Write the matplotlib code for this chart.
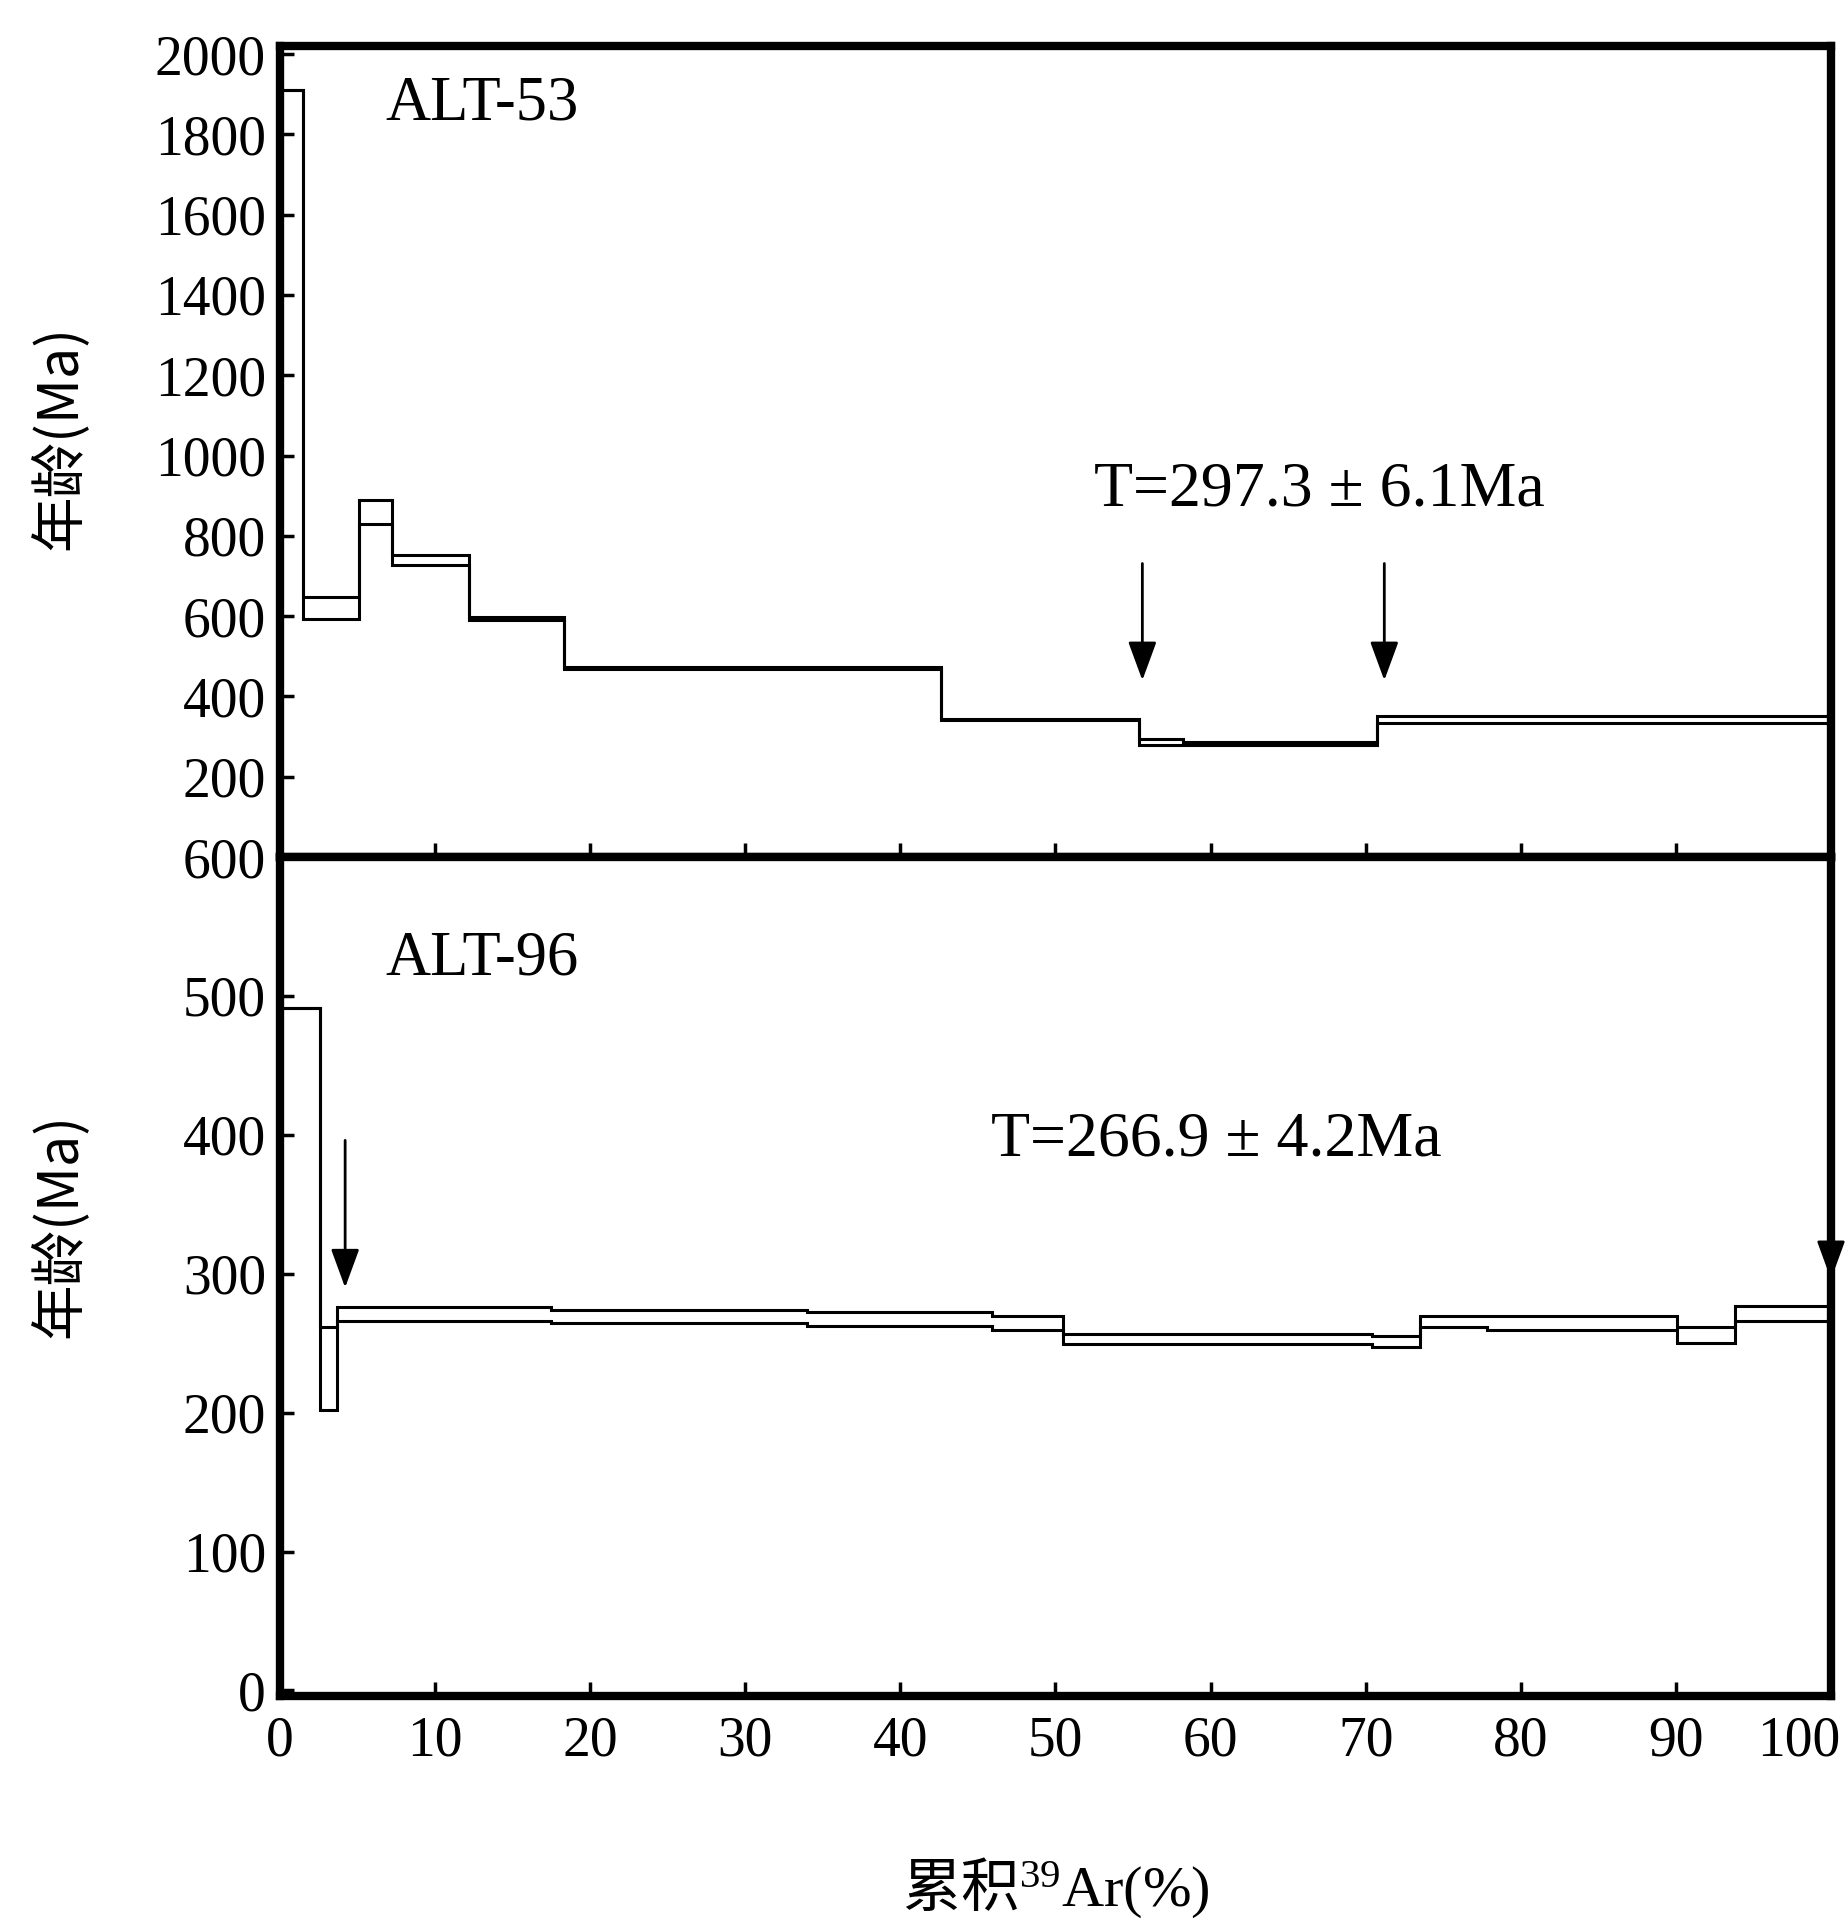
import numpy as np
import matplotlib
matplotlib.use("Agg")
import matplotlib.pyplot as plt
from matplotlib.transforms import ScaledTranslation

plt.rcParams['font.family'] = ['Liberation Serif', 'Noto Sans CJK SC']
plt.rcParams['mathtext.fontset'] = 'custom'
plt.rcParams['mathtext.rm'] = 'Liberation Serif'
plt.rcParams['mathtext.it'] = 'Liberation Serif:italic'
plt.rcParams['mathtext.bf'] = 'Liberation Serif:bold'
plt.rcParams['mathtext.default'] = 'rm'

# ---------------- data ----------------
# ALT-53: cumulative 39Ar (%) step edges, upper / lower age bounds (Ma)
alt53_edges = [0, 1.5, 5.1, 7.2, 12.2, 18.3, 42.6, 55.4, 58.2, 70.7, 100]
alt53_upper = [1910, 648, 890, 752, 599, 473, 344, 294, 286, 352]
alt53_lower = [1910, 593, 829, 728, 590, 468, 340, 280, 280, 334]
alt53_label = "ALT-53"
alt53_plateau = "T=297.3 ± 6.1Ma"
alt53_arrows_x = [55.6, 71.2]

# ALT-96
alt96_edges = [0, 2.6, 3.7, 17.5, 34.0, 45.9, 50.5, 70.4, 73.5, 77.8, 83.1, 90.1, 93.8, 100]
alt96_upper = [491, 262, 276, 274, 272.3, 269.3, 256.6, 254.9, 269.3, 269.3, 269.3, 262, 277]
alt96_lower = [491, 202, 265.7, 264.3, 262.2, 259.7, 249.5, 246.9, 261.4, 259.2, 259.2, 250, 266]
alt96_label = "ALT-96"
alt96_plateau = "T=266.9 ± 4.2Ma"
alt96_arrows_x = [4.2, 100]

top_yticks = [200, 400, 600, 800, 1000, 1200, 1400, 1600, 1800, 2000]
bot_yticks = [0, 100, 200, 300, 400, 500, 600]
xticks = [0, 10, 20, 30, 40, 50, 60, 70, 80, 90, 100]

# ---------------- figure ----------------
W, H = 1849, 1923
fig = plt.figure(figsize=(W / 100, H / 100), dpi=100)

L, R = 280 / W, 1831 / W
y_top, y_mid, y_bot = 1 - 46 / H, 1 - 857 / H, 1 - 1696 / H
ax1 = fig.add_axes([L, y_mid, R - L, y_top - y_mid])
ax2 = fig.add_axes([L, y_bot, R - L, y_mid - y_bot])

spine_lw = 6.0
line_lw = 2.2
tick_fs = 40

for ax in (ax1, ax2):
    for s in ax.spines.values():
        s.set_linewidth(spine_lw)
        s.set_zorder(5)
    ax.set_xlim(0, 100)
    ax.set_xticks(xticks)
    ax.tick_params(direction='in', length=10, width=2.5, labelsize=tick_fs,
                   right=False, top=False)
    ax.tick_params(axis='y', pad=10)
    ax.tick_params(axis='x', pad=14)

# Top panel
ax1.set_ylim(0, 2020)
ax1.set_yticks(top_yticks)
ax1.tick_params(axis='x', labelbottom=False)
ax1.stairs(alt53_upper, alt53_edges, baseline=None, color='k', lw=line_lw)
ax1.stairs(alt53_lower, alt53_edges, baseline=None, color='k', lw=line_lw)
ax1.text(6.8, 1875, alt53_label, fontsize=45, va='center', ha='left')
ax1.text(67.0, 913, alt53_plateau, fontsize=46, va='center', ha='center')
for xa in alt53_arrows_x:
    ax1.annotate('', xy=(xa, 440), xytext=(xa, 731),
                 arrowprops=dict(arrowstyle='-|>,head_length=0.6,head_width=0.22',
                                 mutation_scale=40, lw=2, color='k',
                                 shrinkA=0, shrinkB=0))

# Bottom panel
ax2.set_ylim(-4, 600)
ax2.set_yticks(bot_yticks)
ax2.stairs(alt96_upper, alt96_edges, baseline=None, color='k', lw=line_lw)
ax2.stairs(alt96_lower, alt96_edges, baseline=None, color='k', lw=line_lw)
ax2.text(6.8, 526, alt96_label, fontsize=45, va='center', ha='left')
ax2.text(60.4, 396, alt96_plateau, fontsize=46, va='center', ha='center')
ax2.annotate('', xy=(alt96_arrows_x[0], 290), xytext=(alt96_arrows_x[0], 396),
             arrowprops=dict(arrowstyle='-|>,head_length=0.6,head_width=0.22',
                             mutation_scale=40, lw=2, color='k',
                             shrinkA=0, shrinkB=0))
ax2.annotate('', xy=(alt96_arrows_x[1], 296), xytext=(alt96_arrows_x[1], 420),
             arrowprops=dict(arrowstyle='-|>,head_length=0.6,head_width=0.22',
                             mutation_scale=40, lw=2, color='k',
                             shrinkA=0, shrinkB=0),
             annotation_clip=False)

# shift the last x tick label ("100") left so it stays inside the figure
last = ax2.get_xticklabels()[-1]
last.set_transform(last.get_transform() + ScaledTranslation(-0.32, 0, fig.dpi_scale_trans))

# Labels
ylab_kw = dict(fontsize=40, family=['Noto Sans CJK SC', 'DejaVu Sans'])
ax1.set_ylabel('年龄(Ma)', **ylab_kw)
ax2.set_ylabel('年龄(Ma)', **ylab_kw)
ax1.yaxis.label.set_va('center')
ax2.yaxis.label.set_va('center')
ax1.yaxis.set_label_coords((59 - 280) / 1551, 0.517)
ax2.yaxis.set_label_coords((59 - 280) / 1551, 0.561)

ax2.set_xlabel('累积$^{39}\\mathrm{Ar(\\%)}$', fontsize=42, family='Noto Sans CJK SC')
ax2.xaxis.label.set_va('center')
ax2.xaxis.set_label_coords(0.5, -0.229)

fig.savefig('out.png', dpi=100, facecolor='white')
